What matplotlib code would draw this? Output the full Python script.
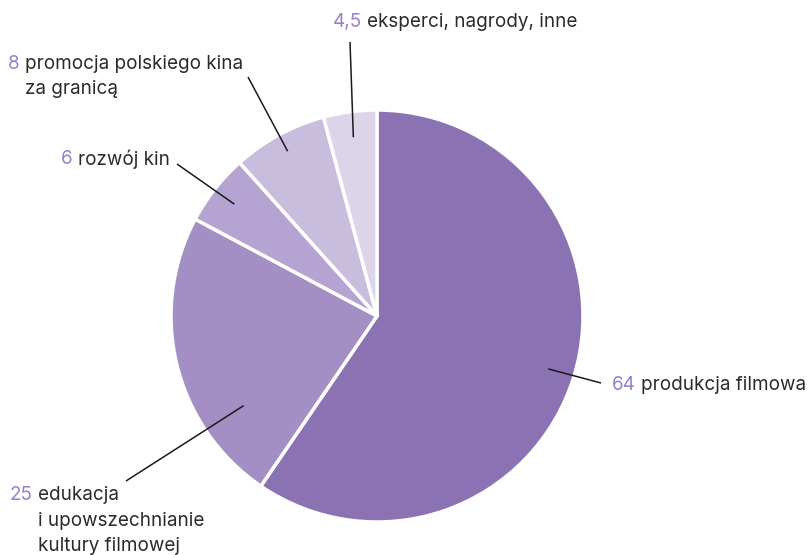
import matplotlib
matplotlib.use("Agg")
import matplotlib.pyplot as plt
import numpy as np

# Data
values = [64, 25, 6, 8, 4.5]
value_labels = ["64", "25", "6", "8", "4,5"]
names = [
    "produkcja filmowa",
    "edukacja\ni upowszechnianie\nkultury filmowej",
    "rozwój kin",
    "promocja polskiego kina\nza granicą",
    "eksperci, nagrody, inne",
]
colors = ["#8b73b3", "#a38fc3", "#b5a4d1", "#c8bddd", "#dcd5e9"]

W, H = 807, 555
fig = plt.figure(figsize=(W / 100, H / 100), dpi=100)
ax = fig.add_axes([0, 0, 1, 1])

cx, cy_img, R = 377, 316, 206
cy = H - cy_img
wedges, _ = ax.pie(values, colors=colors, startangle=90, counterclock=False,
                   center=(cx, cy), radius=R, frame=True,
                   wedgeprops=dict(edgecolor="white", linewidth=2.5))
ax.set_xlim(0, W)
ax.set_ylim(0, H)
ax.set_aspect("equal")
ax.axis("off")

# layout: text anchor (image coords: x, y-center of first line), leader start, anchor angle fraction, radius fraction
layout = [
    dict(tx=612, ty=383, ls=(601, 383), af=0.5, rf=0.87),
    dict(tx=10, ty=493, ls=(126, 481), af=0.26, rf=0.78),
    dict(tx=61, ty=157, ls=(177, 164), af=0.5, rf=0.88),
    dict(tx=8, ty=62, ls=(248, 77), af=0.5, rf=0.91),
    dict(tx=333, ty=20, ls=(350, 42), af=0.5, rf=0.875),
]

fs = 13.6
line_h = 25.5
num_color = "#9a80c8"
txt_color = "#2b2b2b"
fam = ["Inter", "DejaVu Sans"]

fig.canvas.draw()
renderer = fig.canvas.get_renderer()

for w, vl, nm, lay in zip(wedges, value_labels, names, layout):
    th1, th2 = w.theta1, w.theta2
    a = np.deg2rad(th2 - (th2 - th1) * lay["af"])
    px = cx + R * lay["rf"] * np.cos(a)
    py = cy + R * lay["rf"] * np.sin(a)
    lx, ly = lay["ls"]
    ax.plot([lx, px], [H - ly, py], color="#1a1a1a", lw=1.1, solid_capstyle="butt")

    t = ax.text(lay["tx"], H - lay["ty"], vl, fontsize=fs, color=num_color,
                family=fam, fontweight="normal", va="center_baseline", ha="left")
    bb = t.get_window_extent(renderer)
    x1 = ax.transData.inverted().transform((bb.x1, bb.y0))[0]
    lines = nm.split("\n")
    for i, ln in enumerate(lines):
        ax.text(x1 + 5, H - lay["ty"] - i * line_h, ln, fontsize=fs, color=txt_color,
                family=fam, va="center_baseline", ha="left")

fig.savefig("out.png", dpi=100)
